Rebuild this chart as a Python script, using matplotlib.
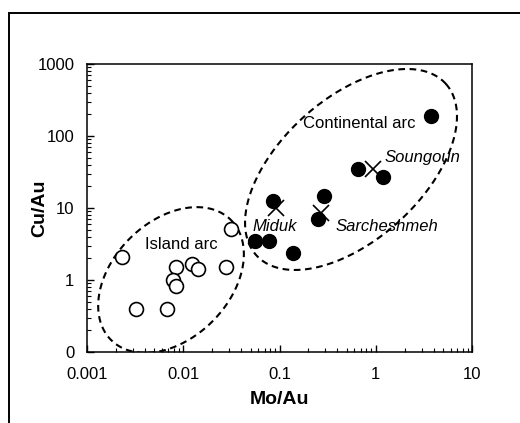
import numpy as np
import matplotlib
matplotlib.use("Agg")
import matplotlib.pyplot as plt
from matplotlib.patches import Rectangle
from matplotlib.ticker import FixedLocator, FixedFormatter, LogLocator, NullFormatter

plt.rcParams['font.family'] = ['Liberation Sans', 'DejaVu Sans']

# island arc deposits (open circles)
island_mo = [0.0023, 0.0032, 0.0068, 0.0085, 0.0078, 0.0085, 0.0123, 0.0142, 0.0278, 0.0313]
island_cu = [2.1, 0.40, 0.40, 1.53, 1.0, 0.83, 1.65, 1.44, 1.5, 5.1]

# continental arc deposits (filled circles)
cont_mo = [3.72, 0.65, 1.2, 0.29, 0.085, 0.251, 0.0556, 0.078, 0.139]
cont_cu = [190, 34.8, 27.2, 14.8, 12.4, 7.0, 3.5, 3.5, 2.35]

# Iranian deposits (crosses)
iran_names = ['Miduk', 'Sarcheshmeh', 'Soungoun']
iran_mo = [0.092, 0.27, 0.93]
iran_cu = [9.9, 8.4, 34.4]

ytick_vals = [0.1, 1, 10, 100, 1000]
ytick_labels = ['0', '1', '10', '100', '1000']
xtick_vals = [0.001, 0.01, 0.1, 1, 10]
xtick_labels = ['0.001', '0.01', '0.1', '1', '10']

fig = plt.figure(figsize=(5.2, 4.23), dpi=100)
ax = fig.add_axes([0.1673, 0.1678, 0.7404, 0.6809])

# frame round the figure (cut off at right and bottom)
fig.patches.append(Rectangle((9 / 520, -0.1), 1.2, 1 - 13 / 423 + 0.1,
                             transform=fig.transFigure, fill=False,
                             edgecolor='black', linewidth=1.4))

ax.set_xscale('log')
ax.set_yscale('log')
ax.set_xlim(0.001, 10)
ax.set_ylim(0.1, 1000)


def dashed_ellipse(center, a_vec, b_vec):
    # ellipse in log-log space from two conjugate semi-axis vectors
    t = np.linspace(0, 2 * np.pi, 300)
    lx = np.log10(center[0]) + a_vec[0] * np.cos(t) + b_vec[0] * np.sin(t)
    ly = np.log10(center[1]) + a_vec[1] * np.cos(t) + b_vec[1] * np.sin(t)
    ax.plot(10 ** lx, 10 ** ly, color='black', lw=1.5, ls=(0, (3.2, 2.2)),
            zorder=1)


dashed_ellipse((10 ** -2.127, 1.0), (0.623, 0.833), (0.430, -0.575))
dashed_ellipse((10 ** -0.257, 10 ** 1.535), (0.985, 1.190), (0.492, -0.729))

ax.plot(island_mo, island_cu, 'o', ms=10, mfc='white', mec='black', mew=1.2,
        ls='none', zorder=3)
ax.plot(cont_mo, cont_cu, 'o', ms=10, mfc='black', mec='black', ls='none',
        zorder=3)
ax.plot(iran_mo, iran_cu, 'x', ms=12, mec='black', mew=1.2, ls='none',
        zorder=4)

ax.text(0.175, 147, 'Continental arc', fontsize=12, ha='left', va='center')
ax.text(0.004, 3.16, 'Island arc', fontsize=12, ha='left', va='center')
ax.text(0.053, 5.6, 'Miduk', fontsize=12, style='italic', ha='left', va='center')
ax.text(0.378, 5.6, 'Sarcheshmeh', fontsize=12, style='italic', ha='left', va='center')
ax.text(1.22, 51, 'Soungoun', fontsize=12, style='italic', ha='left', va='center')

ax.yaxis.set_major_locator(FixedLocator(ytick_vals))
ax.yaxis.set_major_formatter(FixedFormatter(ytick_labels))
ax.xaxis.set_major_locator(FixedLocator(xtick_vals))
ax.xaxis.set_major_formatter(FixedFormatter(xtick_labels))
for axis in (ax.xaxis, ax.yaxis):
    axis.set_minor_locator(LogLocator(base=10, subs=np.arange(2, 10)))
    axis.set_minor_formatter(NullFormatter())

ax.tick_params(which='major', direction='in', length=5, width=1, labelsize=12)
ax.tick_params(which='minor', direction='in', length=3, width=0.8)
ax.tick_params(axis='x', which='major', pad=11)
ax.tick_params(axis='y', which='major', pad=9)
for s in ax.spines.values():
    s.set_linewidth(1.1)

ax.set_xlabel('Mo/Au', fontsize=14, fontweight='bold')
ax.set_ylabel('Cu/Au', fontsize=14, fontweight='bold')
ax.xaxis.set_label_coords(0.5, -0.135)
ax.yaxis.set_label_coords(-0.10, 0.5)

fig.savefig('out.png', dpi=100)
